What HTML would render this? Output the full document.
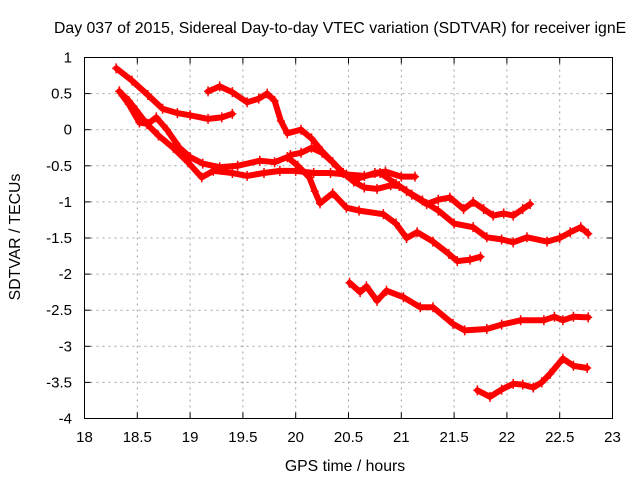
<!DOCTYPE html>
<html><head><meta charset="utf-8"><style>
body{margin:0;background:#fff;}
svg{display:block;font-family:"Liberation Sans","DejaVu Sans",sans-serif;}
</style></head><body>
<svg id="chart" width="640" height="480" viewBox="0 0 640 480">
<rect width="640" height="480" fill="#fff"/>
<text x="54" y="33" font-size="15.8" fill="#000">Day 037 of 2015, Sidereal Day-to-day VTEC variation (SDTVAR) for receiver ignE</text>
<g id="grid"></g>
<g id="ticks"></g>
<g id="series"></g>
<rect x="84.5" y="57.5" width="528" height="361" fill="none" stroke="#000" stroke-width="1"/>
<text x="345" y="471" font-size="15.8" text-anchor="middle">GPS time / hours</text>
<text x="0" y="0" font-size="15.8" text-anchor="middle" transform="translate(20,237) rotate(-90)">SDTVAR / TECUs</text>
</svg>
<script>
const xTicks = [18, 18.5, 19, 19.5, 20, 20.5, 21, 21.5, 22, 22.5, 23];
const xTickLabels = ["18","18.5","19","19.5","20","20.5","21","21.5","22","22.5","23"];
const yTicks = [1, 0.5, 0, -0.5, -1, -1.5, -2, -2.5, -3, -3.5, -4];
const yTickLabels = ["1","0.5","0","-0.5","-1","-1.5","-2","-2.5","-3","-3.5","-4"];

const sA_x = [18.30,18.45,18.6,18.74,18.88,19.0,19.17,19.3,19.40];
const sA_y = [0.85,0.68,0.48,0.29,0.23,0.2,0.15,0.17,0.22];
const sB_x = [19.17,19.28,19.4,19.54,19.65,19.73,19.8,19.86,19.92,20.05,20.15,20.25,20.35,20.45,20.55,20.65,20.77,20.9,20.98,21.1,21.24,21.35,21.46,21.59,21.68,21.78,21.87,21.97,22.06,22.15,22.22];
const sB_y = [0.53,0.6,0.52,0.38,0.43,0.5,0.4,0.12,-0.05,0.0,-0.12,-0.3,-0.45,-0.6,-0.72,-0.8,-0.82,-0.77,-0.78,-0.9,-1.03,-0.97,-0.94,-1.1,-1.0,-1.1,-1.19,-1.16,-1.19,-1.1,-1.03];
const sF_x = [19.95,20.05,20.15,20.25,20.35,20.45,20.6,20.75,20.85,21.0,21.13];
const sF_y = [-0.35,-0.32,-0.25,-0.32,-0.45,-0.6,-0.67,-0.6,-0.58,-0.65,-0.65];
const sC_x = [18.33,18.42,18.52,18.6,18.68,18.78,18.9,19.0,19.12,19.28,19.45,19.66,19.8,19.92,20.02,20.13,20.18,20.23,20.35,20.48,20.6,20.83,20.95,21.05,21.15,21.3,21.45,21.53,21.65,21.75];
const sC_y = [0.53,0.35,0.1,0.08,0.17,0.0,-0.25,-0.38,-0.47,-0.52,-0.5,-0.43,-0.45,-0.38,-0.5,-0.66,-0.85,-1.02,-0.88,-1.08,-1.12,-1.17,-1.3,-1.5,-1.42,-1.55,-1.72,-1.82,-1.8,-1.76];
const sD_x = [18.33,18.42,18.49,18.59,18.7,18.84,18.98,19.11,19.22,19.4,19.54,19.7,19.85,20.0,20.17,20.33,20.48,20.65,20.8,20.95,21.05,21.2,21.35,21.5,21.68,21.81,21.95,22.06,22.19,22.38,22.5,22.6,22.7,22.77];
const sD_y = [0.53,0.4,0.27,0.08,-0.08,-0.25,-0.45,-0.66,-0.57,-0.6,-0.64,-0.6,-0.57,-0.57,-0.6,-0.6,-0.62,-0.64,-0.6,-0.75,-0.85,-0.98,-1.12,-1.3,-1.35,-1.49,-1.52,-1.56,-1.49,-1.55,-1.5,-1.42,-1.35,-1.44];
const sG_x = [20.51,20.61,20.67,20.77,20.86,21.02,21.18,21.3,21.49,21.6,21.81,21.95,22.13,22.35,22.45,22.53,22.63,22.77];
const sG_y = [-2.12,-2.25,-2.17,-2.37,-2.23,-2.32,-2.46,-2.46,-2.69,-2.78,-2.76,-2.7,-2.64,-2.64,-2.59,-2.64,-2.59,-2.6];
const sH_x = [21.72,21.84,21.95,22.06,22.15,22.25,22.33,22.41,22.53,22.63,22.76];
const sH_y = [-3.61,-3.7,-3.6,-3.52,-3.53,-3.57,-3.5,-3.38,-3.17,-3.27,-3.3];

const seriesList = [["series-a",sA_x,sA_y],["series-b",sB_x,sB_y],["series-f",sF_x,sF_y],["series-c",sC_x,sC_y],["series-d",sD_x,sD_y],["series-g",sG_x,sG_y],["series-h",sH_x,sH_y]];

const L=84.5,R=612.5,T=57.5,B=418.5;
function xs(v){return L+(v-18)/5*(R-L);}
function ys(v){return T+(1-v)/5*(B-T);}
const NS="http://www.w3.org/2000/svg";
function mk(tag,attrs,parent){const e=document.createElementNS(NS,tag);for(const k in attrs)e.setAttribute(k,attrs[k]);parent.appendChild(e);return e;}
const grid=document.getElementById('grid'),ticks=document.getElementById('ticks'),ser=document.getElementById('series');

xTicks.forEach((v,i)=>{
  const x=xs(v);
  if(i>0&&i<xTicks.length-1){const g=mk('line',{x1:x,x2:x,y1:T,y2:B,stroke:'#a0a0a0','stroke-dasharray':'2,4'},grid);
  
  }
  const t1=mk('line',{x1:x,x2:x,y1:B,y2:B-6,stroke:'#000'},ticks);
  
  
  const t2=mk('line',{x1:x,x2:x,y1:T,y2:T+6,stroke:'#000'},ticks);
  
  
  const lb=mk('text',{x:x,y:442,'font-size':'15','text-anchor':'middle'},ticks);
  lb.textContent=xTickLabels[i];
  
  
});
yTicks.forEach((v,i)=>{
  const y=ys(v);
  if(i>0&&i<yTicks.length-1){const g=mk('line',{x1:L,x2:R,y1:y,y2:y,stroke:'#a0a0a0','stroke-dasharray':'2,4'},grid);
  
  }
  const t1=mk('line',{x1:L,x2:L+6,y1:y,y2:y,stroke:'#000'},ticks);
  
  
  const t2=mk('line',{x1:R,x2:R-6,y1:y,y2:y,stroke:'#000'},ticks);
  
  
  const lb=mk('text',{x:72,y:y+5,'font-size':'15','text-anchor':'end'},ticks);
  lb.textContent=yTickLabels[i];
  
  
});
seriesList.forEach(s=>{
  const [name,xv,yv]=s;
  const g=mk('g',{},ser);
  
  
  const pts=xv.map((x,i)=>xs(x).toFixed(1)+','+ys(yv[i]).toFixed(1)).join(' ');
  const pl=mk('polyline',{points:pts,fill:'none',stroke:'#ff0000','stroke-width':'6','stroke-linejoin':'round','stroke-linecap':'round'},g);
  
  
  xv.forEach((x,i)=>{
    const px=xs(x),py=ys(yv[i]);
    const p=mk('path',{d:`M${px-4},${py}H${px+4}M${px},${py-5}V${py+5}`,stroke:'#ff0000','stroke-width':'1.5'},g);
    
    
  });
});
</script>
</body></html>
